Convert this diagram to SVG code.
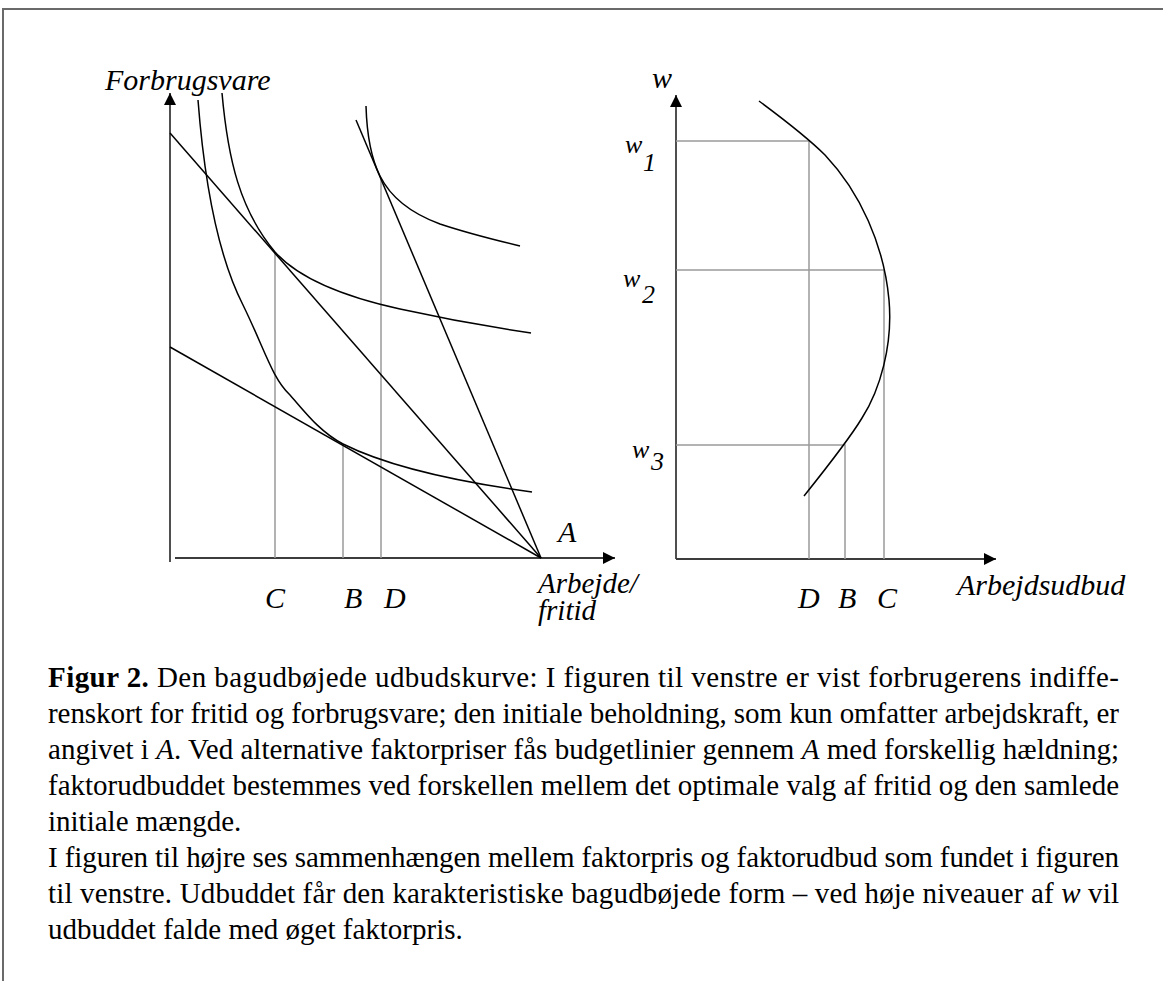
<svg xmlns="http://www.w3.org/2000/svg" width="1163" height="981" viewBox="0 0 1163 981">
<defs>
<marker id="arr" viewBox="0 0 10 10" refX="10" refY="5" markerWidth="17" markerHeight="12" markerUnits="userSpaceOnUse" orient="auto">
<path d="M0,0 L10,5 L0,10 Z" fill="#000"/>
</marker>
<style>
.frame{fill:none;stroke:#6a6a6a;stroke-width:2}
.axis{fill:none;stroke:#3c3c3c;stroke-width:1.8}
.curve{fill:none;stroke:#000;stroke-width:1.5}
.guide{fill:none;stroke:#9a9a9a;stroke-width:1.5}
.lbl{font-family:"Liberation Serif","Times New Roman",serif;font-style:italic;font-size:30px;fill:#000}
.lbl2{font-family:"Liberation Serif","Times New Roman",serif;font-style:italic;font-size:29px;fill:#000}
.wl{font-family:"Liberation Serif","Times New Roman",serif;font-style:italic;font-size:26px;fill:#000}
.cap{font-family:"Liberation Serif","Times New Roman",serif;font-size:29px;fill:#000}
.b{font-weight:bold}
.i{font-style:italic}
</style>
</defs>
<rect width="1163" height="981" fill="#fff"/>
<path class="frame" d="M3,981 V9 H1163"/>

<g id="left-graph">
<g id="left-axes">
<line class="axis" x1="170" y1="562" x2="170" y2="93" marker-end="url(#arr)"/>
<line class="axis" x1="175" y1="558" x2="615" y2="558" marker-end="url(#arr)"/>
</g>
<g id="left-guides">
<line class="guide" x1="275" y1="558" x2="275" y2="252"/>
<line class="guide" x1="343" y1="558" x2="343" y2="444"/>
<line class="guide" x1="381" y1="558" x2="381" y2="178"/>
</g>
<g id="budget-lines">
<line class="curve" x1="170" y1="347" x2="541" y2="558"/>
<line class="curve" x1="170" y1="133" x2="541" y2="558"/>
<line class="curve" x1="356" y1="120" x2="541" y2="558"/>
</g>
<g id="indifference-curves">
<path class="curve" d="M198,100 C203,165 215,250 243,305 C265,350 272,378 290,395 C305,412 320,432 343,444 C375,460 430,478 532,492"/>
<path class="curve" d="M222,93 C228,160 240,210 275,252 C300,280 350,298 400,309 C450,320 490,327 531,333"/>
<path class="curve" d="M366,106 C367,140 372,160 380,176 C390,196 410,213 440,224 C470,234 495,240 520,246"/>
</g>
<g id="left-labels">
<text class="lbl" x="105" y="90">Forbrugsvare</text>
<text class="lbl" x="558" y="542">A</text>
<text class="lbl2"><tspan x="538" y="593">Arbejde/</tspan><tspan x="538" dy="27">fritid</tspan></text>
<text class="lbl" x="265" y="608">C</text>
<text class="lbl" x="344" y="608">B</text>
<text class="lbl" x="384" y="608">D</text>
</g>
</g>

<g id="right-graph">
<g id="right-axes">
<line class="axis" x1="676" y1="559" x2="676" y2="95" marker-end="url(#arr)"/>
<line class="axis" x1="676" y1="559" x2="996" y2="559" marker-end="url(#arr)"/>
</g>
<g id="right-guides">
<polyline class="guide" points="676,141 809,141 809,559"/>
<polyline class="guide" points="676,270 884,270 884,559"/>
<polyline class="guide" points="676,445 845,445 845,559"/>
</g>
<g id="supply-curve">
<path class="curve" d="M759,101 C790,124 808,138 825,155 C860,192 884,245 889,300 C893,345 880,390 862,418 C850,438 828,466 804,496"/>
</g>
<g id="right-labels">
<text class="lbl" x="652" y="88">w</text>
<text class="wl"><tspan x="625" y="153">w</tspan><tspan x="643" dy="18">1</tspan></text>
<text class="wl"><tspan x="623" y="287">w</tspan><tspan x="642" dy="16">2</tspan></text>
<text class="wl"><tspan x="632" y="458">w</tspan><tspan x="651" dy="12">3</tspan></text>
<text class="lbl" x="798" y="608">D</text>
<text class="lbl" x="838" y="608">B</text>
<text class="lbl" x="877" y="608">C</text>
<text class="lbl" x="957" y="595">Arbejdsudbud</text>
</g>
</g>

<g id="caption" class="cap">
<text x="48" y="687" textLength="1071" lengthAdjust="spacing"><tspan class="b">Figur 2.</tspan> Den bagudbøjede udbudskurve: I figuren til venstre er vist forbrugerens indiffe-</text>
<text x="48" y="723" textLength="1071" lengthAdjust="spacing">renskort for fritid og forbrugsvare; den initiale beholdning, som kun omfatter arbejdskraft, er</text>
<text x="48" y="759" textLength="1071" lengthAdjust="spacing">angivet i <tspan class="i">A</tspan>. Ved alternative faktorpriser fås budgetlinier gennem <tspan class="i">A</tspan> med forskellig hældning;</text>
<text x="48" y="795" textLength="1071" lengthAdjust="spacing">faktorudbuddet bestemmes ved forskellen mellem det optimale valg af fritid og den samlede</text>
<text x="48" y="831">initiale mængde.</text>
<text x="48" y="867" textLength="1071" lengthAdjust="spacing">I figuren til højre ses sammenhængen mellem faktorpris og faktorudbud som fundet i figuren</text>
<text x="48" y="903" textLength="1071" lengthAdjust="spacing">til venstre. Udbuddet får den karakteristiske bagudbøjede form – ved høje niveauer af <tspan class="i">w</tspan> vil</text>
<text x="48" y="939">udbuddet falde med øget faktorpris.</text>
</g>
</svg>
